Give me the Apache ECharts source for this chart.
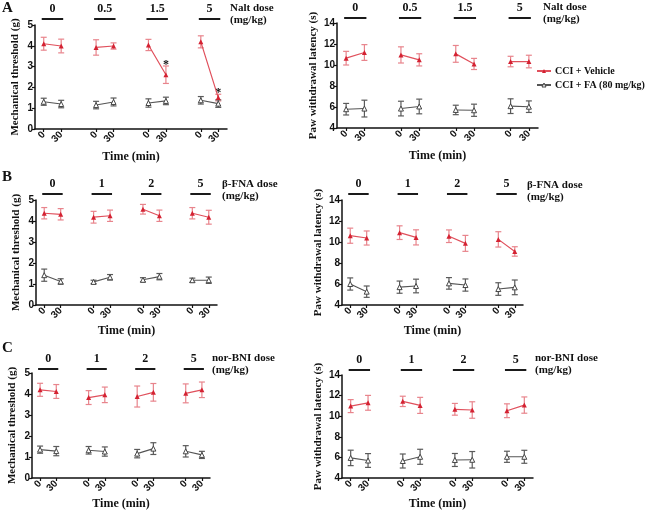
<!DOCTYPE html>
<html><head><meta charset="utf-8">
<script src="https://cdn.jsdelivr.net/npm/echarts@6/dist/echarts.min.js"></script>
<style>html,body{margin:0;padding:0;background:#fff}#c{width:650px;height:511px}</style>
</head><body><div id="c"></div>
<script>
// ---------- data ----------
const timeLabels = ['0', '30'];
const naltDoses = ['0', '0.5', '1.5', '5'];
const fnaDoses = ['0', '1', '2', '5'];
const bniDoses = ['0', '1', '2', '5'];

// A: Naltrexone
const mechNaltVeh    = [4.10, 3.99, 3.92, 3.99, 4.04, 2.61, 4.19, 1.51];
const mechNaltVehErr = [0.31, 0.33, 0.37, 0.15, 0.27, 0.42, 0.29, 0.16];
const mechNaltFA     = [1.31, 1.20, 1.15, 1.30, 1.25, 1.35, 1.38, 1.22];
const mechNaltFAErr  = [0.17, 0.18, 0.18, 0.19, 0.20, 0.18, 0.18, 0.18];
const mechNaltSig    = [0, 0, 0, 0, 0, 1, 0, 1];
const pawNaltVeh     = [10.65, 11.19, 10.96, 10.49, 11.06, 10.10, 10.33, 10.33];
const pawNaltVehErr  = [0.65, 0.75, 0.77, 0.58, 0.80, 0.53, 0.50, 0.60];
const pawNaltFA      = [5.79, 5.85, 5.85, 6.05, 5.72, 5.69, 6.08, 6.03];
const pawNaltFAErr   = [0.55, 0.80, 0.70, 0.70, 0.45, 0.58, 0.70, 0.55];

// B: beta-FNA
const mechFnaVeh    = [4.37, 4.32, 4.18, 4.25, 4.56, 4.25, 4.37, 4.18];
const mechFnaVehErr = [0.27, 0.27, 0.28, 0.27, 0.23, 0.27, 0.27, 0.33];
const mechFnaFA     = [1.42, 1.12, 1.10, 1.32, 1.20, 1.35, 1.18, 1.18];
const mechFnaFAErr  = [0.29, 0.13, 0.08, 0.13, 0.10, 0.15, 0.10, 0.15];
const pawFnaVeh     = [10.60, 10.38, 10.89, 10.44, 10.55, 9.87, 10.25, 9.10];
const pawFnaVehErr  = [0.72, 0.67, 0.65, 0.72, 0.60, 0.76, 0.73, 0.45];
const pawFnaFA      = [6.00, 5.27, 5.70, 5.81, 6.06, 5.90, 5.52, 5.68];
const pawFnaFAErr   = [0.58, 0.54, 0.58, 0.65, 0.55, 0.58, 0.60, 0.70];

// C: nor-BNI
const mechBniVeh    = [4.20, 4.12, 3.83, 3.96, 3.88, 4.08, 4.03, 4.20];
const mechBniVehErr = [0.31, 0.33, 0.33, 0.37, 0.50, 0.42, 0.45, 0.37];
const mechBniFA     = [1.35, 1.28, 1.32, 1.26, 1.16, 1.40, 1.27, 1.10];
const mechBniFAErr  = [0.17, 0.22, 0.18, 0.22, 0.20, 0.28, 0.27, 0.17];
const pawBniVeh     = [10.98, 11.30, 11.44, 11.05, 10.67, 10.60, 10.53, 11.08];
const pawBniVehErr  = [0.63, 0.72, 0.50, 0.78, 0.57, 0.80, 0.67, 0.79];
const pawBniFA      = [5.95, 5.70, 5.65, 6.06, 5.75, 5.77, 6.06, 6.06];
const pawBniFAErr   = [0.75, 0.67, 0.68, 0.73, 0.63, 0.80, 0.54, 0.63];

const noSig = [0, 0, 0, 0, 0, 0, 0, 0];

// ---------- styling / layout ----------
const SERIF = '"Liberation Serif","Times New Roman",serif';
const SANS = '"Liberation Sans",Arial,sans-serif';
const RED = '#d42232', RED_LINE = '#e0505c', RED_ERR = '#e8848c';
const GRAY = '#454545', GRAY_LINE = '#555555', GRAY_ERR = '#5a5a5a';

const panels = [
  {grid:{left:35, top:25, width:192, height:104}, yMin:0, yMax:5, yInt:1, yName:'Mechanical threshold (g)', yGap:14, xGap:22, hdr:6,
   doses:naltDoses, veh:mechNaltVeh, vehErr:mechNaltVehErr, fa:mechNaltFA, faErr:mechNaltFAErr, sig:mechNaltSig},
  {grid:{left:337, top:23, width:201, height:105}, yMin:4, yMax:14, yInt:2, yName:'Paw withdrawal latency (s)', yGap:18, xGap:22, hdr:5,
   doses:naltDoses, veh:pawNaltVeh, vehErr:pawNaltVehErr, fa:pawNaltFA, faErr:pawNaltFAErr, sig:noSig},
  {grid:{left:36, top:200, width:181, height:105}, yMin:0, yMax:5, yInt:1, yName:'Mechanical threshold (g)', yGap:14, xGap:20, hdr:6,
   doses:fnaDoses, veh:mechFnaVeh, vehErr:mechFnaVehErr, fa:mechFnaFA, faErr:mechFnaFAErr, sig:noSig},
  {grid:{left:342, top:200, width:181, height:105}, yMin:4, yMax:14, yInt:2, yName:'Paw withdrawal latency (s)', yGap:18, xGap:20, hdr:6,
   doses:fnaDoses, veh:pawFnaVeh, vehErr:pawFnaVehErr, fa:pawFnaFA, faErr:pawFnaFAErr, sig:noSig},
  {grid:{left:32, top:373, width:178, height:105}, yMin:0, yMax:5, yInt:1, yName:'Mechanical threshold (g)', yGap:14, xGap:20, hdr:4,
   doses:bniDoses, veh:mechBniVeh, vehErr:mechBniVehErr, fa:mechBniFA, faErr:mechBniFAErr, sig:noSig},
  {grid:{left:342, top:375, width:191, height:105}, yMin:4, yMax:14, yInt:2, yName:'Paw withdrawal latency (s)', yGap:18, xGap:20, hdr:5,
   doses:bniDoses, veh:pawBniVeh, vehErr:pawBniVehErr, fa:pawBniFA, faErr:pawBniFAErr, sig:noSig}
];

// category slots: two time points per dose, blank slot between doses
function buildCats(doses) {
  const cats = [];
  doses.forEach((d, g) => {
    if (g > 0) cats.push('');
    timeLabels.forEach(t => cats.push(t));
  });
  return cats;
}
function slotOf(i) { return Math.floor(i / 2) * 3 + (i % 2); }
function lineData(vals, n) {
  const arr = new Array(n).fill(null);
  vals.forEach((v, i) => { arr[slotOf(i)] = v; });
  return arr;
}
function errData(vals, errs, sig) {
  return vals.map((v, i) => [slotOf(i), v, errs[i], sig[i]]);
}

function errRender(color) {
  return function (params, api) {
    const x = api.value(0), m = api.value(1), e = api.value(2), s = api.value(3);
    const top = api.coord([x, m + e]), bot = api.coord([x, m - e]);
    const hw = 3;
    const st = {stroke: color, lineWidth: 1.2};
    const children = [
      {type: 'line', shape: {x1: top[0], y1: top[1], x2: bot[0], y2: bot[1]}, style: st},
      {type: 'line', shape: {x1: top[0] - hw, y1: top[1], x2: top[0] + hw, y2: top[1]}, style: st},
      {type: 'line', shape: {x1: bot[0] - hw, y1: bot[1], x2: bot[0] + hw, y2: bot[1]}, style: st}
    ];
    if (s) {
      children.push({type: 'text', x: top[0], y: top[1] - 1,
        style: {text: '*', fill: '#111', font: 'bold 12px ' + SERIF, align: 'center', verticalAlign: 'middle'}});
    }
    return {type: 'group', children: children};
  };
}

function headerRender(p) {
  return function (params, api) {
    const i0 = api.value(0), i1 = api.value(1);
    const p0 = api.coord([i0, p.yMax]), p1 = api.coord([i1, p.yMax]);
    const y = p0[1] - p.hdr;
    return {type: 'group', children: [
      {type: 'line', shape: {x1: p0[0] - 2, y1: y, x2: p1[0] + 2, y2: y}, style: {stroke: '#1a1a1a', lineWidth: 2}},
      {type: 'text', x: (p0[0] + p1[0]) / 2, y: y - 10,
        style: {text: p.doses[params.dataIndex], fill: '#111', font: 'bold 12px ' + SERIF, align: 'center', verticalAlign: 'middle'}}
    ]};
  };
}

const grids = [], xAxes = [], yAxes = [], series = [];
panels.forEach((p, k) => {
  const cats = buildCats(p.doses);
  grids.push(Object.assign({containLabel: false}, p.grid));
  xAxes.push({
    type: 'category', gridIndex: k, data: cats, boundaryGap: true,
    name: 'Time (min)', nameLocation: 'middle', nameGap: p.xGap,
    nameTextStyle: {fontFamily: SERIF, fontWeight: 'bold', fontSize: 12, color: '#111'},
    axisLine: {show: true, lineStyle: {color: '#111', width: 1.5}},
    axisTick: {show: true, alignWithLabel: true, length: 3, lineStyle: {color: '#111', width: 1.2},
               interval: (i, v) => v !== ''},
    axisLabel: {interval: (i, v) => v !== '', rotate: 45, margin: 4, fontFamily: SANS, fontWeight: 'bold', fontSize: 10, color: '#111'},
    splitLine: {show: false}
  });
  yAxes.push({
    type: 'value', gridIndex: k, min: p.yMin, max: p.yMax, interval: p.yInt,
    name: p.yName, nameLocation: 'middle', nameGap: p.yGap, nameRotate: 90,
    nameTextStyle: {fontFamily: SERIF, fontWeight: 'bold', fontSize: 11, color: '#111'},
    axisLine: {show: true, lineStyle: {color: '#111', width: 1.5}},
    axisTick: {show: true, length: 3, lineStyle: {color: '#111', width: 1.2}},
    axisLabel: {margin: 2, fontFamily: SANS, fontWeight: 'bold', fontSize: 10, color: '#111'},
    splitLine: {show: false}
  });
  const n = cats.length;
  series.push({
    type: 'custom', name: 'errVeh' + k, xAxisIndex: k, yAxisIndex: k, z: 2,
    renderItem: errRender(RED_ERR), data: errData(p.veh, p.vehErr, p.sig), silent: true
  });
  series.push({
    type: 'custom', name: 'errFA' + k, xAxisIndex: k, yAxisIndex: k, z: 2,
    renderItem: errRender(GRAY_ERR), data: errData(p.fa, p.faErr, noSig), silent: true
  });
  series.push({
    type: 'line', name: 'CCI + Vehicle', xAxisIndex: k, yAxisIndex: k, z: 3,
    data: lineData(p.veh, n), connectNulls: false, animation: false,
    symbol: 'triangle', symbolSize: 5, showAllSymbol: true,
    itemStyle: {color: RED}, lineStyle: {color: RED_LINE, width: 1.2}
  });
  series.push({
    type: 'line', name: 'CCI + FA (80 mg/kg)', xAxisIndex: k, yAxisIndex: k, z: 3,
    data: lineData(p.fa, n), connectNulls: false, animation: false,
    symbol: 'triangle', symbolSize: 5, showAllSymbol: true,
    itemStyle: {color: '#ffffff', borderColor: GRAY, borderWidth: 1}, lineStyle: {color: GRAY_LINE, width: 1.1}
  });
  series.push({
    type: 'custom', name: 'hdr' + k, xAxisIndex: k, yAxisIndex: k, z: 4, silent: true,
    renderItem: headerRender(p), data: p.doses.map((d, g) => [g * 3, g * 3 + 1])
  });
});

const titleStyle = {fontFamily: SERIF, fontWeight: 'bold', color: '#111'};
const doseStyle = Object.assign({fontSize: 11, lineHeight: 12}, titleStyle);
const letterStyle = Object.assign({fontSize: 15}, titleStyle);

const option = {
  animation: false,
  backgroundColor: '#fff',
  title: [
    {text: 'A', left: 2, top: 1, padding: 0, textStyle: letterStyle},
    {text: 'B', left: 2, top: 170, padding: 0, textStyle: letterStyle},
    {text: 'C', left: 2, top: 341, padding: 0, textStyle: letterStyle},
    {text: 'Nalt dose\n(mg/kg)', left: 230, top: 2, padding: 0, textStyle: doseStyle},
    {text: 'Nalt dose\n(mg/kg)', left: 543, top: 1, padding: 0, textStyle: doseStyle},
    {text: 'β-FNA dose\n(mg/kg)', left: 222, top: 178, padding: 0, textStyle: doseStyle},
    {text: 'β-FNA dose\n(mg/kg)', left: 527, top: 179, padding: 0, textStyle: doseStyle},
    {text: 'nor-BNI dose\n(mg/kg)', left: 212, top: 352, padding: 0, textStyle: doseStyle},
    {text: 'nor-BNI dose\n(mg/kg)', left: 535, top: 352, padding: 0, textStyle: doseStyle}
  ],
  legend: {
    data: [
      {name: 'CCI + Vehicle', itemStyle: {color: RED}},
      {name: 'CCI + FA (80 mg/kg)', itemStyle: {color: '#ffffff', borderColor: GRAY, borderWidth: 1}}
    ],
    orient: 'vertical', left: 536, top: 66, itemGap: 4, itemWidth: 14, itemHeight: 5, padding: 0,
    textStyle: {fontFamily: SERIF, fontWeight: 'bold', fontSize: 10, color: '#111', padding: [0, 0, 0, -1]},
    selectedMode: false
  },
  grid: grids, xAxis: xAxes, yAxis: yAxes, series: series
};

const chart = echarts.init(document.getElementById('c'), null, {renderer: 'canvas'});
chart.setOption(option);
</script></body></html>
